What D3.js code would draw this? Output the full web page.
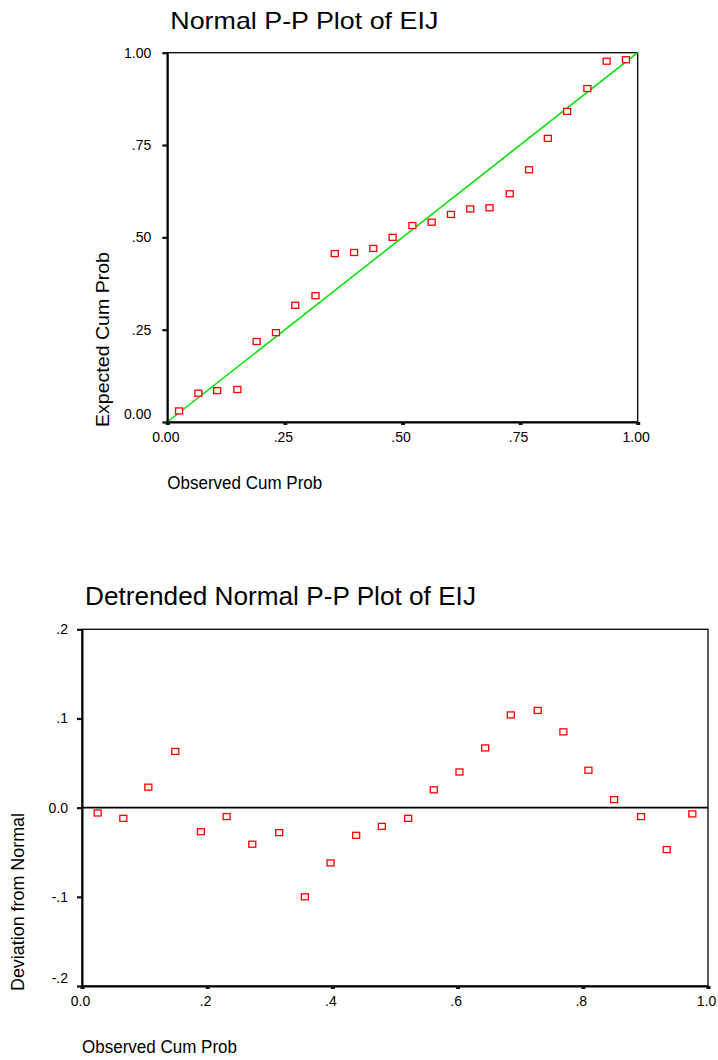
<!DOCTYPE html>
<html>
<head>
<meta charset="utf-8">
<script src="https://cdn.jsdelivr.net/npm/d3@7"></script>
<style>
  body { margin: 0; background: #fff; }
  svg { display: block; font-family: "Liberation Sans", Arial, sans-serif; }
</style>
</head>
<body>
<svg class="pp-chart" width="718" height="1060"></svg>
<script>
// data (24 cases)
var observedCumProb = [0.025, 0.066, 0.106, 0.149, 0.190, 0.231, 0.272, 0.315, 0.356, 0.397, 0.438, 0.479,
  0.521, 0.562, 0.603, 0.644, 0.685, 0.728, 0.769, 0.809, 0.850, 0.893, 0.934, 0.975];
var expectedCumProb = [0.030, 0.078, 0.085, 0.088, 0.218, 0.242, 0.316, 0.342, 0.456, 0.459, 0.470, 0.500,
  0.532, 0.541, 0.562, 0.577, 0.580, 0.618, 0.683, 0.768, 0.841, 0.903, 0.977, 0.981];
var deviationFromNormal = [-0.006, -0.012, 0.023, 0.063, -0.027, -0.010, -0.041, -0.028, -0.100, -0.062, -0.031, -0.021,
  -0.012, 0.020, 0.040, 0.067, 0.104, 0.109, 0.085, 0.042, 0.009, -0.010, -0.047, -0.007];

// tick values and labels
var ppTicks = [0, 0.25, 0.5, 0.75, 1];
var ppTickLabels = ['0.00', '.25', '.50', '.75', '1.00'];
var detrendXTicks = [0, 0.2, 0.4, 0.6, 0.8, 1];
var detrendXTickLabels = ['0.0', '.2', '.4', '.6', '.8', '1.0'];
var detrendYTicks = [-0.2, -0.1, 0, 0.1, 0.2];
var detrendYTickLabels = ['-.2', '-.1', '0.0', '.1', '.2'];

(function PPChartModule() {

  'use strict';

  // vars
  var _svg = d3.select('.pp-chart'),
    _tickFont = 14,
    _markerW = 7,
    _markerH = 6,
    _red = '#ff0000',
    _green = '#00e000';

  var ppPoints = observedCumProb.map(function (d, i) { return { x: d, y: expectedCumProb[i] }; });
  var detrendPoints = observedCumProb.map(function (d, i) { return { x: d, y: deviationFromNormal[i] }; });

  drawPanel({
    left: 167.3, top: 52.7, width: 470.4, height: 369.3,
    xDomain: [0, 1], yDomain: [0, 1],
    xTicks: ppTicks, xLabels: ppTickLabels,
    yTicks: ppTicks, yLabels: ppTickLabels,
    yPad: 11,
    title: 'Normal P-P Plot of EIJ', titleLength: 268, titleSize: 24,
    yTitle: 'Expected Cum Prob', yTitleLength: 175,
    xTitle: 'Observed Cum Prob', xTitleLength: 155,
    points: ppPoints,
    diagonal: true
  });

  drawPanel({
    left: 82, top: 629.3, width: 626, height: 356.7,
    xDomain: [0, 1], yDomain: [-0.2, 0.2],
    xTicks: detrendXTicks, xLabels: detrendXTickLabels,
    yTicks: detrendYTicks, yLabels: detrendYTickLabels,
    yPad: 9,
    title: 'Detrended Normal P-P Plot of EIJ', titleLength: 391, titleSize: 25,
    yTitle: 'Deviation from Normal', yTitleLength: 178,
    xTitle: 'Observed Cum Prob', xTitleLength: 155,
    points: detrendPoints,
    zeroLine: true
  });

  function drawPanel(p) {
    var x = d3.scaleLinear().domain(p.xDomain).range([0, p.width]);
    var y = d3.scaleLinear().domain(p.yDomain).range([p.height, 0]);
    var g = _svg.append('g').attr('transform', 'translate(' + p.left + ',' + p.top + ')');

    // frame (top / right)
    g.append('rect')
      .attr('width', p.width)
      .attr('height', p.height)
      .attr('fill', 'none')
      .attr('stroke', '#000')
      .attr('stroke-width', 1.3);

    // reference lines
    if (p.diagonal) {
      g.append('line')
        .attr('x1', x(0)).attr('y1', y(0))
        .attr('x2', x(1)).attr('y2', y(1))
        .attr('stroke', _green)
        .attr('stroke-width', 1.5);
    }
    if (p.zeroLine) {
      g.append('line')
        .attr('x1', 0).attr('x2', p.width)
        .attr('y1', y(0)).attr('y2', y(0))
        .attr('stroke', '#000')
        .attr('stroke-width', 1.6);
    }

    // markers
    g.selectAll('rect.pt')
      .data(p.points)
      .enter()
      .append('rect')
      .attr('class', 'pt')
      .attr('x', function (d) { return x(d.x) - _markerW / 2; })
      .attr('y', function (d) { return y(d.y) - _markerH / 2; })
      .attr('width', _markerW)
      .attr('height', _markerH)
      .attr('fill', '#fff')
      .attr('stroke', _red)
      .attr('stroke-width', 1.3);

    // x axis
    var xAxis = g.append('g')
      .attr('transform', 'translate(0,' + p.height + ')')
      .call(d3.axisBottom(x)
        .tickValues(p.xTicks)
        .tickFormat(function (d, i) { return p.xLabels[i]; })
        .tickSize(3)
        .tickSizeOuter(0)
        .tickPadding(7));
    styleAxis(xAxis);
    xAxis.selectAll('.tick line').attr('stroke-width', 4);
    xAxis.selectAll('.tick text').attr('dx', -2);

    // y axis
    var yAxis = g.append('g')
      .call(d3.axisLeft(y)
        .tickValues(p.yTicks)
        .tickFormat(function (d, i) { return p.yLabels[i]; })
        .tickSize(5)
        .tickSizeOuter(0)
        .tickPadding(p.yPad));
    styleAxis(yAxis);
    yAxis.selectAll('.tick line').attr('stroke-width', 2.2);
    // lowest label sits a bit above its tick
    yAxis.selectAll('.tick text')
      .filter(function (d) { return d === p.yDomain[0]; })
      .attr('dy', '-0.25em');

    // titles
    g.append('text')
      .attr('x', 3)
      .attr('y', -24)
      .attr('font-size', p.titleSize)
      .attr('textLength', p.titleLength)
      .attr('lengthAdjust', 'spacingAndGlyphs')
      .attr('fill', '#000')
      .text(p.title);

    g.append('text')
      .attr('transform', 'translate(-58,' + (p.height + 5) + ') rotate(-90)')
      .attr('font-size', 18)
      .attr('textLength', p.yTitleLength)
      .attr('lengthAdjust', 'spacingAndGlyphs')
      .attr('fill', '#000')
      .text(p.yTitle);

    g.append('text')
      .attr('x', 0)
      .attr('y', p.height + 67)
      .attr('font-size', 18)
      .attr('textLength', p.xTitleLength)
      .attr('lengthAdjust', 'spacingAndGlyphs')
      .attr('fill', '#000')
      .text(p.xTitle);
  }

  function styleAxis(sel) {
    sel.select('.domain').attr('stroke', '#000').attr('stroke-width', 2);
    sel.selectAll('.tick line').attr('stroke', '#111');
    sel.selectAll('.tick text')
      .attr('fill', '#000')
      .attr('font-size', _tickFont)
      .attr('font-family', '"Liberation Sans", Arial, sans-serif');
  }

})();
</script>
</body>
</html>
